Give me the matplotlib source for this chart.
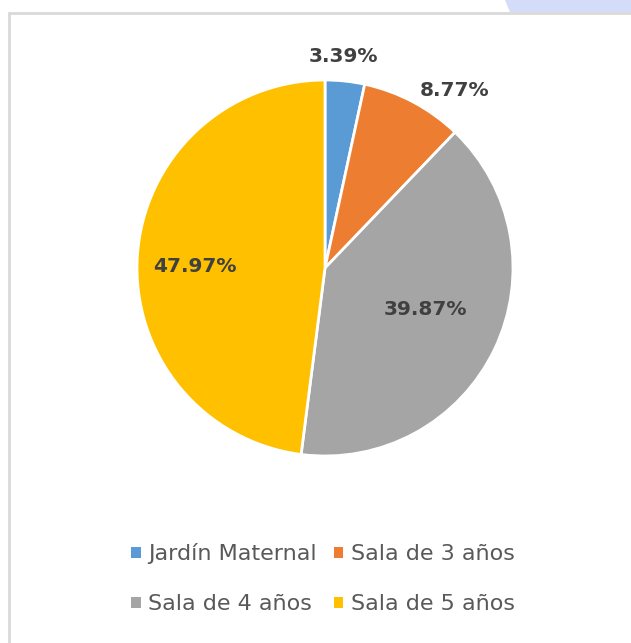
import numpy as np
import matplotlib
matplotlib.use("Agg")
import matplotlib.pyplot as plt
from matplotlib.patches import Rectangle, Polygon

categories = ["Jardín Maternal", "Sala de 3 años", "Sala de 4 años", "Sala de 5 años"]
shares = [3.39, 8.77, 39.87, 47.97]
colors = ["#5B9BD5", "#ED7D31", "#A5A5A5", "#FFC000"]

# radial distance and angle nudge (degrees) for each percentage label
label_radius = [1.13, 1.17, 0.58, 0.69]
label_nudge = [-1, 8, -3, -3]

W, H = 631, 643
fig = plt.figure(figsize=(W / 100, H / 100), dpi=100)
fig.patch.set_facecolor("white")

# chart frame and the tinted corner behind it
fig.patches.append(Polygon([[505 / W, 1], [1, 1], [1, 1 - 12 / H], [510 / W, 1 - 12 / H]],
                           closed=True, transform=fig.transFigure,
                           facecolor="#D3DCF8", edgecolor="none"))
fig.patches.append(Rectangle((9 / W, -0.1), 1.2, 1 - 13 / H + 0.1, transform=fig.transFigure,
                             facecolor="none", edgecolor="#D9D9D9", linewidth=2))

cx, cy, r = 325, 268, 188
ax = fig.add_axes([(cx - r) / W, 1 - (cy + r) / H, 2 * r / W, 2 * r / H])
wedges, _ = ax.pie(shares, colors=colors, startangle=90, counterclock=False,
                   wedgeprops=dict(edgecolor="white", linewidth=2))
ax.set_xlim(-1, 1)
ax.set_ylim(-1, 1)
ax.set_aspect("equal")

for w, val, rad, nud in zip(wedges, shares, label_radius, label_nudge):
    ang = np.deg2rad((w.theta1 + w.theta2) / 2 - nud)
    ax.text(rad * np.cos(ang), rad * np.sin(ang), f"{val:.2f}%",
            ha="center", va="center", fontsize=14.5, fontweight="bold",
            color="#404040", family="DejaVu Sans", clip_on=False)

# legend fills row by row: two entries per line
order = [0, 2, 1, 3]
leg = fig.legend([wedges[i] for i in order], [categories[i] for i in order],
                 ncol=2, loc="center", bbox_to_anchor=(323 / W, 1 - 579 / H),
                 frameon=False, prop={"family": "DejaVu Sans", "size": 16},
                 labelcolor="#595959", handlelength=0.42, handleheight=0.42,
                 handletextpad=0.35, columnspacing=0.75, labelspacing=1.35)
for h in leg.legend_handles:
    h.set_edgecolor("none")

fig.savefig("out.png", dpi=100)
